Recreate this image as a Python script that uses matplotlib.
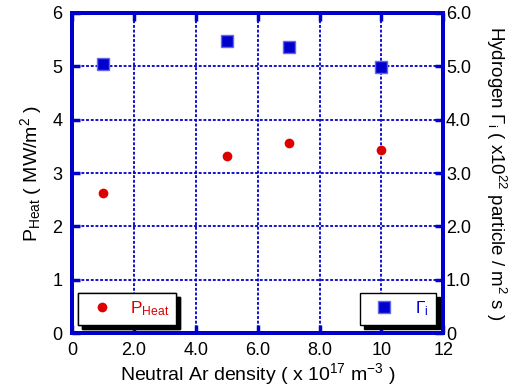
import matplotlib
matplotlib.use("Agg")
import matplotlib.pyplot as plt
from matplotlib.lines import Line2D

plt.rcParams['font.family'] = ['Liberation Sans', 'DejaVu Sans']
plt.rcParams['mathtext.fontset'] = 'custom'
plt.rcParams['mathtext.rm'] = 'Liberation Sans'
plt.rcParams['mathtext.it'] = 'Liberation Sans'

# Data
ar_density = [1, 5, 7, 10]
p_heat = [2.63, 3.32, 3.56, 3.43]
gamma_i = [5.05, 5.48, 5.37, 4.99]

x_ticks = [0, 2, 4, 6, 8, 10, 12]
x_tick_labels = ["0", "2.0", "4.0", "6.0", "8.0", "10", "12"]
y_ticks = [0, 1, 2, 3, 4, 5, 6]
y_tick_labels = ["0", "1", "2", "3", "4", "5", "6"]
y2_tick_labels = ["0", "1.0", "2.0", "3.0", "4.0", "5.0", "6.0"]

BLUE = '#0000cc'
RED = '#dd0000'

fig = plt.figure(figsize=(5.19, 3.92), dpi=100)
ax = fig.add_axes([0.139, 0.150, 0.715, 0.817])
ax2 = ax.twinx()

ax.set_xlim(0, 12)
ax.set_ylim(0, 6)
ax2.set_ylim(0, 6)

ax.set_xticks(x_ticks)
ax.set_xticklabels(x_tick_labels)
ax.set_yticks(y_ticks)
ax.set_yticklabels(y_tick_labels)
ax2.set_yticks(y_ticks)
ax2.set_yticklabels(y2_tick_labels)

for a in (ax, ax2):
    for s in a.spines.values():
        s.set_color(BLUE)
        s.set_linewidth(2.8)
    a.tick_params(direction='in', length=6, width=2.5, color=BLUE, labelsize=13, labelcolor='black')
ax.tick_params(axis='x', top=True, pad=6)
ax.tick_params(axis='y', right=False, pad=7)
ax2.tick_params(axis='y', pad=2)

ax.grid(True, color=BLUE, linestyle=(0, (1.6, 1.0)), linewidth=1.3)
ax.set_axisbelow(True)

ax.plot(ar_density, p_heat, 'o', color=RED, markersize=7, markeredgewidth=0, zorder=5)
ax2.plot(ar_density, gamma_i, 's', color=BLUE, markersize=8, markeredgewidth=1, markeredgecolor='#6666ee', zorder=5)

ax.set_xlabel(r'Neutral Ar density ( x 10$^{17}$ m$^{-3}$ )', fontsize=14, labelpad=2)
ax.set_ylabel(r'P$_{\mathrm{Heat}}$ ( MW/m$^2$ )', fontsize=14, labelpad=6)
ax2.set_ylabel(r'Hydrogen $\Gamma_{\mathrm{i}}$ ( x10$^{22}$ particle / m$^2$ s )', fontsize=13.5,
               rotation=270, va='bottom', labelpad=9)

shadow = {'color': 'black', 'alpha': 1.0, 'ox': 3, 'oy': -3}
h1 = Line2D([], [], marker='o', color=RED, linestyle='none', markersize=7, markeredgewidth=0)
leg1 = ax.legend([h1], [r'P$_{\mathrm{Heat}}$'], loc='lower left', bbox_to_anchor=(0.015, 0.025),
                 fancybox=False, edgecolor='black', framealpha=1, fontsize=12.5,
                 borderpad=0.4, handletextpad=0.6, borderaxespad=0, handlelength=2.0, shadow=shadow)
leg1.get_frame().set_linewidth(1.0)
for t in leg1.get_texts():
    t.set_color(RED)
ax.add_artist(leg1)

h2 = Line2D([], [], marker='s', color=BLUE, linestyle='none', markersize=8, markeredgecolor='#6666ee')
leg2 = ax2.legend([h2], [r'$\Gamma_{\mathrm{i}}$'], loc='lower right', bbox_to_anchor=(0.98, 0.025),
                  fancybox=False, edgecolor='black', framealpha=1, fontsize=12.5,
                  borderpad=0.4, handletextpad=0.8, borderaxespad=0, handlelength=2.0, shadow=shadow)
leg2.get_frame().set_linewidth(1.0)
for t in leg2.get_texts():
    t.set_color(BLUE)

fig.savefig('out.png', dpi=100)
